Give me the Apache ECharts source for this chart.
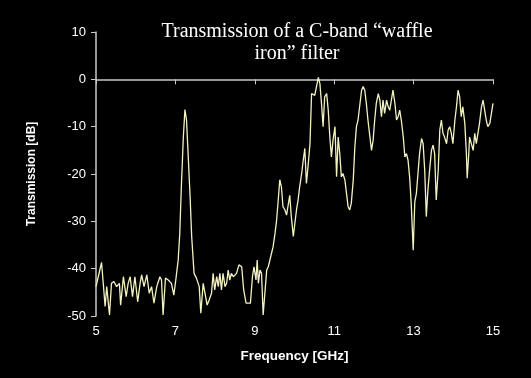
<!DOCTYPE html>
<html>
<head>
<meta charset="utf-8">
<script src="https://cdn.jsdelivr.net/npm/echarts@6/dist/echarts.min.js"></script>
<style>html,body{margin:0;padding:0;background:#000;}#c{width:531px;height:378px;}</style>
</head>
<body>
<div id="c"></div>
<script>
const titleText = "Transmission of a C-band \u201cwaffle\niron\u201d filter";
const xName = "Frequency [GHz]";
const yName = "Transmission [dB]";
const xTicks = [5, 7, 9, 11, 13, 15];
const yTicks = [-50, -40, -30, -20, -10, 0, 10];
const freq = [5.00,5.14,5.23,5.27,5.34,5.39,5.45,5.52,5.59,5.62,5.69,5.76,5.81,5.86,5.92,5.98,6.05,6.11,6.15,6.21,6.28,6.34,6.40,6.46,6.53,6.61,6.65,6.69,6.75,6.82,6.90,6.96,7.01,7.07,7.11,7.15,7.20,7.24,7.28,7.32,7.37,7.41,7.47,7.53,7.60,7.64,7.70,7.74,7.80,7.85,7.91,7.95,7.99,8.04,8.08,8.12,8.16,8.20,8.25,8.29,8.33,8.37,8.41,8.46,8.54,8.60,8.67,8.72,8.78,8.83,8.89,8.94,8.98,9.03,9.06,9.09,9.13,9.17,9.21,9.25,9.30,9.34,9.38,9.42,9.46,9.51,9.55,9.59,9.63,9.67,9.71,9.76,9.80,9.84,9.88,9.92,9.97,10.01,10.05,10.09,10.13,10.18,10.22,10.26,10.30,10.34,10.39,10.43,10.47,10.51,10.55,10.60,10.64,10.68,10.72,10.76,10.81,10.85,10.89,10.93,10.97,11.02,11.06,11.10,11.14,11.18,11.22,11.27,11.31,11.35,11.39,11.43,11.48,11.52,11.56,11.60,11.64,11.69,11.73,11.77,11.81,11.85,11.90,11.94,11.98,12.02,12.06,12.11,12.15,12.19,12.23,12.27,12.32,12.36,12.40,12.44,12.48,12.53,12.57,12.61,12.65,12.69,12.74,12.78,12.82,12.86,12.90,12.94,12.99,13.03,13.07,13.11,13.15,13.20,13.24,13.28,13.32,13.36,13.41,13.45,13.49,13.53,13.57,13.62,13.66,13.70,13.74,13.78,13.83,13.87,13.91,13.95,13.99,14.04,14.08,14.12,14.16,14.20,14.24,14.29,14.33,14.35,14.39,14.41,14.45,14.50,14.54,14.58,14.62,14.66,14.71,14.75,14.79,14.83,14.87,14.92,14.96,15.00];
const transmission = [-43.8,-38.7,-48.0,-43.8,-49.8,-43.1,-42.7,-43.8,-43.1,-47.7,-41.7,-45.9,-43.1,-41.7,-45.9,-41.7,-47.0,-43.1,-41.3,-43.8,-41.3,-45.2,-43.8,-47.3,-43.8,-41.7,-42.4,-49.8,-42.0,-42.4,-43.1,-45.6,-42.4,-38.2,-32.5,-22.7,-12.2,-6.4,-8.6,-15.7,-24.8,-33.2,-41.0,-42.0,-43.8,-49.4,-43.1,-42.7,-47.7,-46.6,-45.2,-41.0,-44.5,-41.7,-43.8,-41.0,-44.5,-41.0,-43.8,-43.1,-40.3,-42.4,-41.0,-41.7,-41.0,-39.2,-39.6,-44.5,-47.3,-47.3,-47.3,-41.7,-39.6,-42.4,-38.2,-43.1,-40.3,-41.0,-49.8,-49.8,-40.3,-39.6,-39.6,-36.8,-35.4,-32.5,-29.7,-25.5,-21.2,-22.7,-26.9,-27.6,-28.7,-29.0,-24.5,-29.0,-33.2,-30.4,-27.6,-25.5,-22.7,-19.9,-17.1,-14.6,-22.0,-18.5,-13.6,-3.0,-2.7,-3.4,-3.7,0.4,-0.9,-5.1,-10.0,-3.7,-3.0,-6.5,-12.2,-16.4,-12.9,-10.0,-20.6,-12.2,-15.7,-20.6,-19.9,-21.3,-24.1,-26.9,-27.6,-26.2,-21.3,-14.3,-10.0,-8.6,-5.8,-2.3,-1.5,-2.3,-5.1,-8.6,-12.2,-15.0,-12.9,-8.6,-5.1,-3.0,-4.4,-7.9,-4.4,-7.2,-4.4,-5.8,-6.5,-4.4,-2.3,-5.1,-8.6,-7.9,-6.5,-8.6,-12.2,-16.4,-15.7,-17.1,-20.6,-26.2,-36.1,-25.9,-24.1,-19.9,-15.7,-12.5,-13.6,-19.2,-29.0,-23.4,-18.5,-15.0,-13.9,-15.7,-25.5,-19.2,-10.7,-8.6,-11.4,-12.2,-13.6,-10.7,-10.0,-11.4,-13.6,-8.6,-5.8,-2.3,-3.7,-7.9,-5.8,-9.3,-15.7,-20.9,-15.7,-12.2,-12.2,-15.0,-11.4,-13.6,-11.4,-9.3,-5.8,-4.4,-6.5,-8.6,-10.0,-9.3,-7.2,-5.1];

const chart = echarts.init(document.getElementById('c'), null, {renderer: 'canvas'});
const axisCol = '#c8c8c8';
chart.setOption({
  backgroundColor: '#000000',
  animation: false,
  grid: {left: 96, right: 38, top: 32, bottom: 62},
  graphic: [{
    type: 'text', x: 297, y: 21, z: 10,
    style: {text: titleText, textAlign: 'center', fill: '#ffffff',
      font: '20px "Liberation Serif", "Times New Roman", serif', lineHeight: 22}
  }],
  xAxis: {
    type: 'value', min: xTicks[0], max: xTicks[xTicks.length - 1], interval: 2,
    name: xName, nameLocation: 'middle', nameGap: 33,
    nameTextStyle: {color: '#ffffff', fontFamily: 'Liberation Sans, Arial, sans-serif', fontWeight: 'bold', fontSize: 13.5},
    axisLine: {lineStyle: {color: axisCol, width: 1.5}},
    axisTick: {show: true, length: 5, lineStyle: {color: axisCol}},
    axisLabel: {color: '#ffffff', fontFamily: 'Liberation Sans, Arial, sans-serif', fontSize: 13, margin: 9},
    splitLine: {show: false}
  },
  yAxis: {
    type: 'value', min: yTicks[0], max: yTicks[yTicks.length - 1], interval: 10,
    name: yName, nameLocation: 'middle', nameGap: 58, nameRotate: 90,
    nameTextStyle: {color: '#ffffff', fontFamily: 'Liberation Sans, Arial, sans-serif', fontWeight: 'bold', fontSize: 12},
    axisLine: {show: true, lineStyle: {color: axisCol, width: 1.5}},
    axisTick: {show: true, length: 5, lineStyle: {color: axisCol}},
    axisLabel: {color: '#ffffff', fontFamily: 'Liberation Sans, Arial, sans-serif', fontSize: 13, margin: 10},
    splitLine: {show: false}
  },
  series: [{
    type: 'line', data: freq.map((f, i) => [f, transmission[i]]),
    showSymbol: false, symbol: 'none', smooth: false,
    lineStyle: {color: '#f4f2c0', width: 1.3}
  }]
});
</script>
</body>
</html>
